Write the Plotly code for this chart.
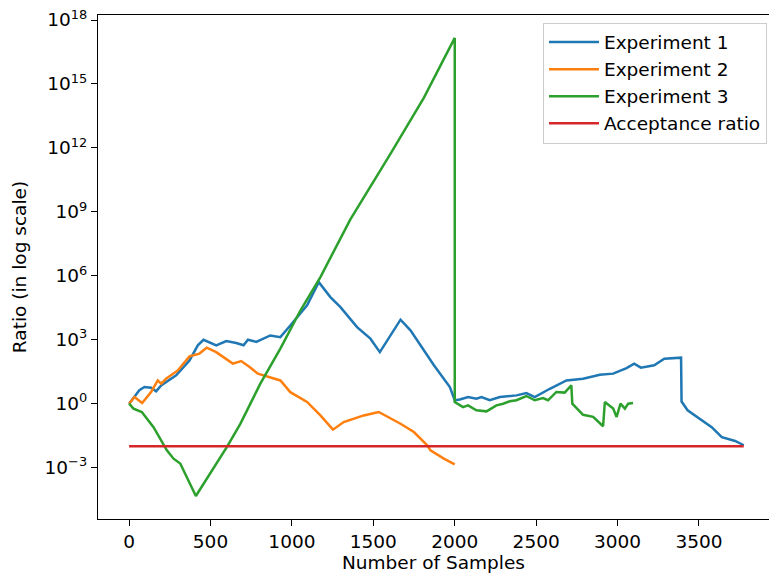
import plotly.graph_objects as go

# Experiment 1 (blue): sample index, log10(ratio)
exp1_x = [0, 63, 94, 135, 166, 197, 289, 371, 422, 457, 535, 597, 658, 703, 730, 781,
          867, 929, 990, 1093, 1165, 1236, 1298, 1400, 1482, 1540, 1667, 1728, 1872,
          1970, 2000, 2031, 2082, 2133, 2164, 2215, 2277, 2379, 2440, 2491, 2584, 2686,
          2788, 2891, 2973, 3055, 3102, 3143, 3225, 3287, 3390, 3393, 3430, 3516, 3578,
          3640, 3722, 3775]
exp1_log = [0, 0.63, 0.78, 0.75, 0.58, 0.86, 1.33, 2.03, 2.74, 3.0, 2.74, 2.94, 2.85, 2.74,
            3.0, 2.9, 3.2, 3.12, 3.67, 4.61, 5.7, 5.0, 4.53, 3.59, 3.05, 2.42, 3.94, 3.44,
            1.8, 0.78, 0.16, 0.2, 0.31, 0.23, 0.31, 0.16, 0.31, 0.39, 0.5, 0.31, 0.7, 1.09,
            1.17, 1.36, 1.41, 1.67, 1.88, 1.69, 1.8, 2.11, 2.16, 0.1, -0.31, -0.78, -1.1,
            -1.57, -1.75, -1.95]

# Experiment 2 (orange)
exp2_x = [0, 33, 80, 135, 176, 197, 227, 299, 371, 432, 477, 535, 637, 688, 740, 791,
          929, 990, 1093, 1175, 1252, 1318, 1441, 1533, 1667, 1749, 1831, 1851, 1933, 2000]
exp2_log = [0, 0.31, 0.03, 0.55, 1.09, 0.94, 1.17, 1.56, 2.22, 2.35, 2.63, 2.42, 1.88, 2.0,
            1.72, 1.41, 1.09, 0.54, 0.08, -0.55, -1.22, -0.86, -0.55, -0.39, -0.94, -1.33,
            -1.95, -2.19, -2.58, -2.85]

# Experiment 3 (green)
exp3_x = [0, 27, 78, 150, 232, 273, 314, 410, 601, 683, 806, 929, 1052, 1175, 1359, 1605,
          1810, 2000, 2000, 2051, 2082, 2133, 2195, 2256, 2297, 2338, 2379, 2440, 2491,
          2542, 2573, 2624, 2675, 2716, 2722, 2788, 2850, 2911, 2922, 2973, 2994, 3018,
          3045, 3065, 3095]
exp3_log = [0, -0.23, -0.39, -1.1, -2.19, -2.58, -2.81, -4.33, -2.03, -0.95, 0.94, 2.58,
            4.37, 5.94, 8.65, 11.72, 14.35, 17.16, 0.08, -0.16, -0.08, -0.31, -0.36, -0.08,
            0.0, 0.11, 0.16, 0.36, 0.16, 0.26, 0.16, 0.55, 0.52, 0.86, 0.0, -0.52, -0.62,
            -1.06, 0.08, -0.23, -0.62, 0.0, -0.23, 0.0, 0.03]

# Acceptance ratio (red)
acc_x = [0, 3775]
acc_val = [0.01, 0.01]

ytick_vals = [1e-3, 1e0, 1e3, 1e6, 1e9, 1e12, 1e15, 1e18]
ytick_text = ["10<sup>\u22123</sup>", "10<sup>0</sup>", "10<sup>3</sup>", "10<sup>6</sup>",
              "10<sup>9</sup>", "10<sup>12</sup>", "10<sup>15</sup>", "10<sup>18</sup>"]
xtick_vals = [0, 500, 1000, 1500, 2000, 2500, 3000, 3500]

FONT = "DejaVu Sans"
FS = 18.5
fig = go.Figure()
series = [
    ("Experiment 1", exp1_x, [10 ** v for v in exp1_log], "#1f77b4"),
    ("Experiment 2", exp2_x, [10 ** v for v in exp2_log], "#ff7f0e"),
    ("Experiment 3", exp3_x, [10 ** v for v in exp3_log], "#2ca02c"),
    ("Acceptance ratio", acc_x, acc_val, "#d62728"),
]
for name, xs, ys, col in series:
    fig.add_trace(go.Scatter(x=xs, y=ys, mode="lines", name=name,
                             line=dict(color=col, width=2.5)))

fig.update_layout(
    width=769, height=580,
    margin=dict(l=98, r=0, t=15, b=61),
    paper_bgcolor="white", plot_bgcolor="white",
    font=dict(family=FONT, size=FS, color="black"),
    showlegend=True,
    legend=dict(x=0.997, y=0.985, xanchor="right", yanchor="top",
                bgcolor="rgba(255,255,255,0.8)", bordercolor="#cccccc", borderwidth=1,
                itemwidth=50,
                font=dict(family=FONT, size=FS, color="black")),
)
fig.update_xaxes(range=[-191, 3930], tickvals=xtick_vals, showgrid=False, zeroline=False,
                 showline=True, linecolor="black", linewidth=1.2, mirror=True,
                 ticks="outside", ticklen=6, tickcolor="black",
                 tickfont=dict(family=FONT, size=FS),
                 title=dict(text="Number of Samples", standoff=3,
                            font=dict(family=FONT, size=FS)))
fig.update_yaxes(type="log", range=[-5.41, 18.235], tickvals=ytick_vals, ticktext=ytick_text,
                 showgrid=False, zeroline=False, showline=True, linecolor="black",
                 linewidth=1.2, ticks="outside", ticklen=6, tickcolor="black",
                 tickfont=dict(family=FONT, size=FS),
                 title=dict(text="Ratio (in log scale)", standoff=13,
                            font=dict(family=FONT, size=FS)))

fig.write_html("out.html")
